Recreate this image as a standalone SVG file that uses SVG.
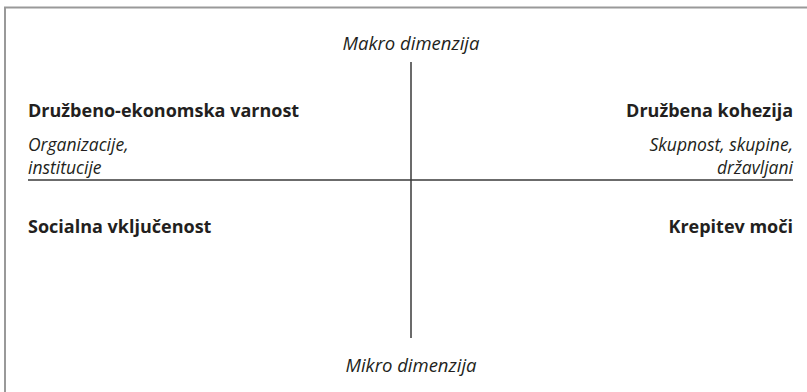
<svg xmlns="http://www.w3.org/2000/svg" width="807" height="392" viewBox="0 0 807 392">
<style>
.t{font-family:"Open Sans","Liberation Sans",sans-serif;font-size:18px;fill:#231f20}
.b{font-weight:bold}
.i{font-style:italic;font-size:18.5px}
.s{font-size:17.5px}
.ax{stroke:#3a3a3a;stroke-width:1.5;fill:none}
.fr{stroke:#999;stroke-width:2;fill:none}
</style>
<rect width="807" height="392" fill="#fff"/>
<g id="frame"><path class="fr" d="M5,392 V7.5 H807"/></g>
<g id="connectors">
<line class="ax" x1="411" y1="62" x2="411" y2="338"/>
<line class="ax" x1="28" y1="180" x2="793" y2="180"/>
</g>
<g id="makro"><text class="t i" x="411" y="50" text-anchor="middle">Makro dimenzija</text></g>
<g id="mikro"><text class="t i" x="411" y="372" text-anchor="middle">Mikro dimenzija</text></g>
<g id="q1">
<text class="t b" x="28" y="117">Družbeno-ekonomska varnost</text>
<text class="t i s" x="28" y="151">Organizacije,</text>
<text class="t i s" x="28" y="174">institucije</text>
</g>
<g id="q2">
<text class="t b" x="793" y="117" text-anchor="end">Družbena kohezija</text>
<text class="t i s" x="793" y="151" text-anchor="end">Skupnost, skupine,</text>
<text class="t i s" x="793" y="174" text-anchor="end">državljani</text>
</g>
<g id="q3"><text class="t b" x="28" y="233">Socialna vključenost</text></g>
<g id="q4"><text class="t b" x="793" y="233" text-anchor="end">Krepitev moči</text></g>
</svg>
